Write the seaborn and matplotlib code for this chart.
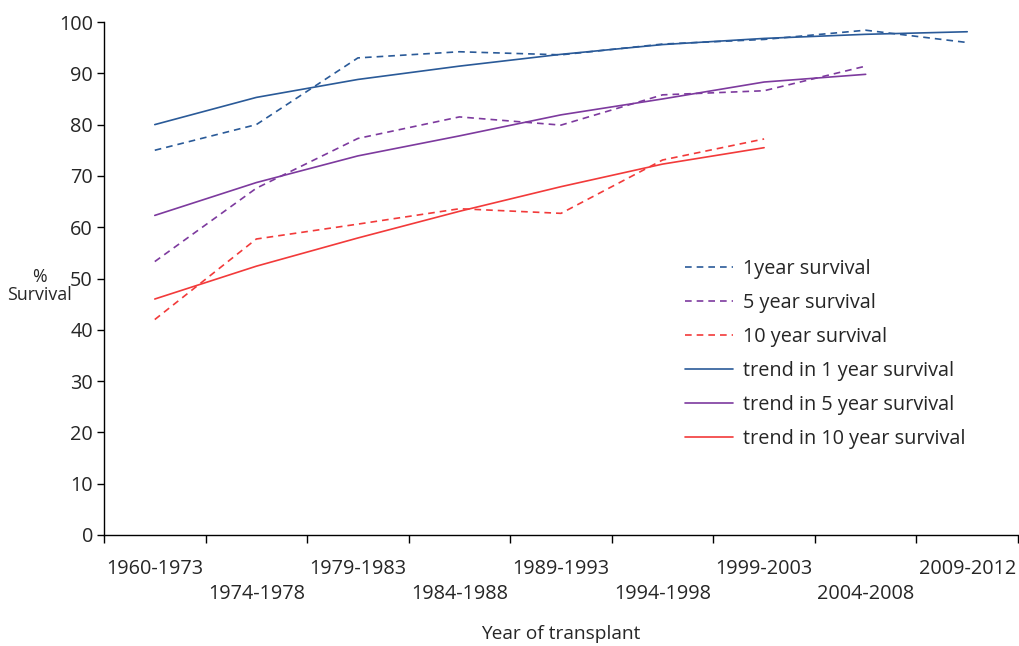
"""Kidney transplant survival by era, with trend lines."""
import matplotlib
matplotlib.use("Agg")
import matplotlib.pyplot as plt
import numpy as np
import pandas as pd
import seaborn as sns

PERIODS = ["1960-1973", "1974-1978", "1979-1983", "1984-1988", "1989-1993",
           "1994-1998", "1999-2003", "2004-2008", "2009-2012"]

surv_1y = [75, 80, 93, 94.2, 93.6, 95.7, 96.6, 98.4, 96]
surv_5y = [53.3, 67.6, 77.3, 81.5, 79.9, 85.8, 86.6, 91.4]
surv_10y = [42, 57.7, 60.6, 63.6, 62.7, 73.1, 77.2]
trend_1y = [80, 85.3, 88.8, 91.4, 93.7, 95.6, 96.8, 97.6, 98.1]
trend_5y = [62.3, 68.7, 73.9, 77.8, 81.9, 85.0, 88.3, 89.8]
trend_10y = [46, 52.4, 57.9, 63.1, 67.9, 72.3, 75.5]

SERIES = {
    "1year survival": surv_1y,
    "5 year survival": surv_5y,
    "10 year survival": surv_10y,
    "trend in 1 year survival": trend_1y,
    "trend in 5 year survival": trend_5y,
    "trend in 10 year survival": trend_10y,
}

BLUE, PURPLE, RED = "#2A5A98", "#7D3A9E", "#F23A3A"
palette = dict(zip(SERIES, [BLUE, PURPLE, RED, BLUE, PURPLE, RED]))
dashes = dict(zip(SERIES, [(4, 3)] * 3 + [""] * 3))

rows = []
for name, vals in SERIES.items():
    for i, v in enumerate(vals):
        rows.append({"series": name, "x": i, "survival": v})
df = pd.DataFrame(rows)

sns.set_style("white")
plt.rcParams["font.family"] = ["Open Sans", "DejaVu Sans"]
FS = 14.3

fig = plt.figure(figsize=(10.19, 6.46), dpi=100)
ax = fig.add_axes([104 / 1019, 1 - 535 / 646, 914 / 1019, 513 / 646])

sns.lineplot(data=df, x="x", y="survival", hue="series", style="series",
             palette=palette, dashes=dashes, hue_order=list(SERIES),
             style_order=list(SERIES), linewidth=1.2, ax=ax)

ax.set_xlim(-0.5, len(PERIODS) - 0.5)
ax.set_ylim(0, 100)
ax.set_yticks(np.arange(0, 101, 10))
ax.set_xticks(range(len(PERIODS)))
ax.set_xticklabels(PERIODS)
ax.set_xticks(np.arange(-0.5, len(PERIODS)), minor=True)
ax.tick_params(axis="x", which="major", length=0, labelsize=FS)
ax.tick_params(axis="x", which="minor", length=6, width=1, color="black",
               direction="out", bottom=True)
ax.tick_params(axis="y", length=5, width=1, color="black", direction="out",
               left=True, labelsize=FS, pad=3)
for i, t in enumerate(ax.xaxis.get_major_ticks()):
    t.set_pad(17 if i % 2 == 0 else 35)

for side in ("top", "right"):
    ax.spines[side].set_visible(False)
for side in ("left", "bottom"):
    ax.spines[side].set_color("black")
    ax.spines[side].set_linewidth(1)

ax.set_xlabel("")
ax.set_ylabel("")
fig.text(39 / 1019, 1 - 286 / 646, "%\nSurvival", ha="center", va="center",
         fontsize=FS - 1.5, multialignment="center", linespacing=1.0)
fig.text(561 / 1019, 1 - 634 / 646, "Year of transplant", ha="center",
         va="center", fontsize=FS - 0.5)

ax.legend(loc="upper left", bbox_to_anchor=(685 / 1019, 1 - 259 / 646),
          bbox_transform=fig.transFigure, frameon=False, fontsize=FS,
          borderpad=0, borderaxespad=0,
          handlelength=2.4, handletextpad=0.5, labelspacing=0.7)

fig.savefig("out.png", dpi=100)
